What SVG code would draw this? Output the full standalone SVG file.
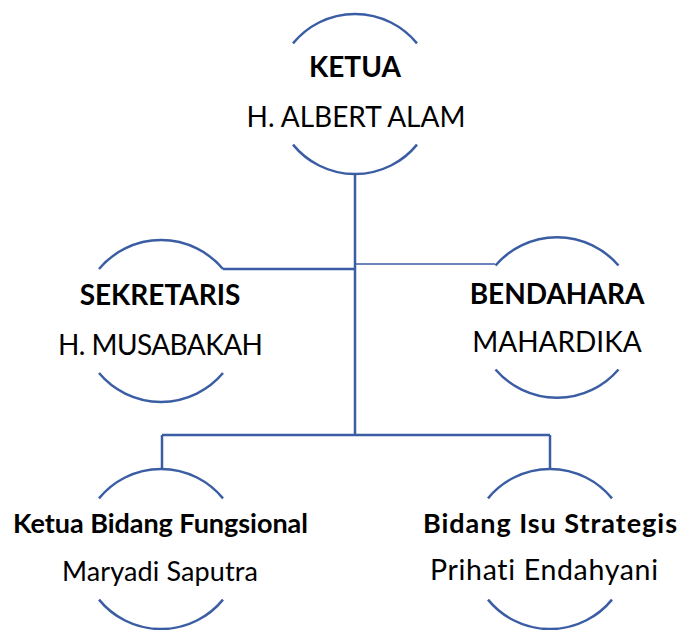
<svg xmlns="http://www.w3.org/2000/svg" width="683" height="630" viewBox="0 0 683 630">
<style>
.arc{fill:none;stroke:#3A5DA3;stroke-width:2.5}
.ln{fill:none;stroke:#3A5DA3;stroke-width:2.5}
.thin{fill:none;stroke:#3A5DA3;stroke-width:1.5}
text{font-family:Lato,"Open Sans",sans-serif;fill:#000;text-anchor:middle;font-variant-ligatures:none}
.t{font-weight:bold;font-size:28px}
.n{font-size:28px}
.ts{font-weight:bold;font-size:27px}
.ns{font-size:27px}
</style>
<rect width="683" height="630" fill="#fff"/>
<g id="connectors">
<path class="ln" d="M355,174V435"/>
<path class="ln" d="M223,269H355"/>
<path class="thin" d="M355,264H495"/>
<path class="ln" d="M162,435H550M162,435V469M550,435V469"/>
</g>
<g id="ketua">
<path class="arc" d="M293,43.4A80,80 0 0 1 417,43.4"/>
<path class="arc" d="M293,144.6A80,80 0 0 0 417,144.6"/>
<text class="t" x="355" y="77">KETUA</text>
<text class="n" x="356" y="127">H. ALBERT ALAM</text>
</g>
<g id="sekretaris">
<path class="arc" d="M99,269A81,81 0 0 1 223,269"/>
<path class="arc" d="M99,373A81,81 0 0 0 223,373"/>
<text class="t" x="160" y="305">SEKRETARIS</text>
<text class="n" x="160.5" y="355" textLength="205">H. MUSABAKAH</text>
</g>
<g id="bendahara">
<path class="arc" d="M495.5,265.5A81,81 0 0 1 618.5,265.5"/>
<path class="arc" d="M495.5,369.5A81,81 0 0 0 618.5,369.5"/>
<text class="t" x="557" y="304">BENDAHARA</text>
<text class="n" x="557" y="352">MAHARDIKA</text>
</g>
<g id="fungsional">
<path class="arc" d="M99,498.4A80,80 0 0 1 223,498.4"/>
<path class="arc" d="M99,599.6A80,80 0 0 0 223,599.6"/>
<text class="ts" x="160.5" y="533" textLength="295">Ketua Bidang Fungsional</text>
<text class="ns" x="160" y="581" textLength="196">Maryadi Saputra</text>
</g>
<g id="strategis">
<path class="arc" d="M488,498.4A80,80 0 0 1 612,498.4"/>
<path class="arc" d="M488,599.6A80,80 0 0 0 612,599.6"/>
<text class="ts" x="550" y="533" textLength="254">Bidang Isu Strategis</text>
<text class="ns" x="544" y="580" style="font-size:28.5px" textLength="228">Prihati Endahyani</text>
</g>
</svg>
